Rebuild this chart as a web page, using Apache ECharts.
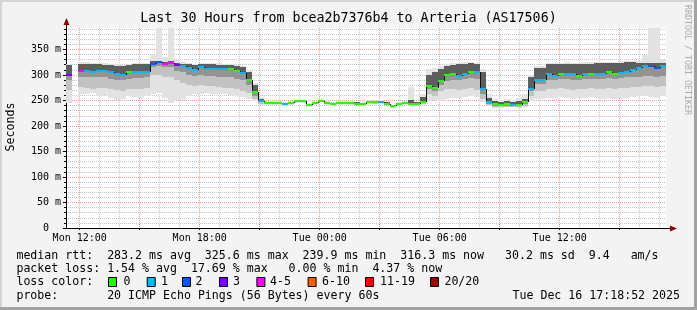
<!DOCTYPE html>
<html><head><meta charset="utf-8">
<script src="https://cdn.jsdelivr.net/npm/echarts@6/dist/echarts.min.js"></script>
<style>html,body{margin:0;padding:0;background:#f3f3f3;}#c{width:697px;height:310px;}</style>
</head><body><div id="c"></div>
<script>
// ---- data ----
const START_HOUR = 11 + 18 / 60 + 52 / 3600; // Mon 11:18:52 (hours since Mon 00:00)
const STEP_HOURS = 0.3;
const SPAN_HOURS = 30;

const median = [300,null,307,308,305,308,307,305,302,299,
  305,305,305,306,322,325,322,323,320,318,
  314,310,316,312,312,311,311,311,307,303,
  290,266,248,245,245,245,243,245,248,248,
  241,245,249,245,243,245,245,245,244,243,
  247,246,247,244,239,243,245,243,244,247,
  279,275,288,299,301,297,301,306,305,272,
  246,243,242,243,242,242,246,273,291,291,
  301,297,302,301,301,298,301,302,302,302,
  305,301,303,305,310,314,318,318,313,317];
const lossClass = [3,0,4,1,1,1,1,1,1,1,
  0,1,1,1,2,2,4,4,3,1,
  1,1,1,1,1,1,1,0,0,1,
  0,0,1,0,0,0,1,0,0,0,
  0,0,0,0,0,0,0,0,0,0,
  0,0,1,0,0,0,0,0,0,0,
  0,0,0,0,0,1,1,0,1,1,
  1,0,0,0,1,0,0,1,1,1,
  1,1,0,1,1,0,1,0,1,1,
  0,0,1,1,1,1,1,2,2,1];
const smokeMax = [322,null,325,325,324,324,323,322,321,320,
  322,323,323,324,340,400,335,400,330,325,
  324,322,324,323,323,323,322,322,320,318,
  310,285,256,248,248,248,246,248,251,251,
  244,248,252,248,246,248,248,248,247,246,
  250,249,250,247,242,246,248,277,247,262,
  312,314,318,322,324,324,325,326,324,312,
  262,252,250,252,250,255,262,300,318,318,
  324,324,324,325,324,324,325,325,325,326,
  326,326,327,327,328,328,340,400,400,330];
const smokeTop = [319,null,322,322,321,321,320,319,318,317,
  320,321,321,322,328,328,326,327,324,322,
  321,320,322,321,321,320,320,320,318,315,
  305,280,253,247,247,247,245,247,250,250,
  243,247,251,247,245,247,247,247,246,245,
  249,248,249,246,241,245,247,250,246,256,
  300,305,312,318,320,321,322,323,321,305,
  255,248,247,248,246,248,252,296,313,314,
  321,321,322,322,321,321,322,322,323,323,
  324,323,324,325,325,324,324,324,323,324];
const smokeDark = [290,null,296,296,295,296,295,292,290,290,
  293,294,294,296,315,318,315,315,308,305,
  300,298,300,298,297,296,295,295,292,290,
  280,258,246,244,244,244,242,244,247,247,
  240,244,248,244,242,244,244,244,243,242,
  246,245,246,243,238,242,244,242,243,246,
  272,268,280,288,290,290,292,294,292,262,
  243,240,239,240,240,240,243,268,282,282,
  290,290,292,292,290,290,292,292,292,292,
  294,292,294,295,296,296,298,298,296,298];
const smokeMid = [270,null,276,275,272,275,274,272,270,268,
  272,272,272,275,300,300,295,295,290,285,
  280,278,280,278,278,276,275,275,272,268,
  265,252,244,243,243,243,241,243,246,246,
  239,243,247,243,241,243,243,243,242,241,
  245,244,245,242,237,241,243,241,242,244,
  262,258,268,272,272,270,272,274,270,252,
  241,238,237,238,238,238,240,258,268,268,
  272,272,274,272,270,272,272,274,272,272,
  274,272,274,275,276,276,278,278,276,278];
const smokeMin = [245,null,262,262,264,258,260,255,250,252,
  258,256,254,258,262,265,255,245,250,250,
  258,262,262,265,262,262,262,260,258,256,
  252,248,242,242,242,242,240,242,245,245,
  238,242,246,242,240,242,242,242,241,240,
  244,243,244,241,236,240,242,240,241,242,
  248,250,248,252,255,255,256,258,256,246,
  239,236,236,237,237,236,238,248,252,252,
  254,255,256,254,252,255,254,256,254,252,
  254,252,254,255,256,258,258,256,254,258];

const lossColors = ['#26ff00','#00b8ff','#0059ff','#7e00ff','#ff00ff','#ff5e00','#ff0000','#a10000'];
const lossLabels = ['0','1','2','3','4-5','6-10','11-19','20/20'];

const yLabelTicks = [0,50,100,150,200,250,300,350];
const yMinorTicks = [10,20,30,40,60,70,80,90,110,120,130,140,160,170,180,190,210,220,230,240,260,270,280,290,310,320,330,340,360,370,380,390];
const xLabelHours = [12,18,24,30,36];
const xMajorHours = [12,15,18,21,24,27,30,33,36,39];
const xMinorHours = [13,14,16,17,19,20,22,23,25,26,28,29,31,32,34,35,37,38,40,41];
const dayNames = ['Mon','Tue'];

const titleText = 'Last 30 Hours from bcea2b7376b4 to Arteria (AS17506)';
const rttLabel = 'median rtt:';
const rttStats = ['283.2 ms avg','325.6 ms max','239.9 ms min','316.3 ms now','30.2 ms sd','9.4','am/s'];
const lossLabel = 'packet loss:';
const lossStats = ['1.54 % avg','17.69 % max','0.00 % min','4.37 % now'];
const colorLabel = 'loss color:';
const probeLabel = 'probe:';
const probeText = '20 ICMP Echo Pings (56 Bytes) every 60s';
const dateText = 'Tue Dec 16 17:18:52 2025';
const yName = 'Seconds';
const watermark = 'RRDTOOL / TOBI OETIKER';

// ---- build ----
const FONT = '"DejaVu Sans Mono", monospace';
const times = median.map((_, i) => START_HOUR + i * STEP_HOURS);
const smokeData = times.map((t, i) => [t, smokeMin[i], smokeMid[i], smokeDark[i], median[i], smokeTop[i], smokeMax[i]]);
const medianData = times.map((t, i) => [t, median[i], lossClass[i], i + 1 < median.length ? median[i + 1] : null]);

const bad = v => v == null || isNaN(v);

function renderSmoke(params, api) {
  const t = api.value(0);
  if (bad(api.value(4))) return;
  const cs = params.coordSys;
  const clipR = {x: cs.x, y: cs.y, width: cs.width, height: cs.height};
  const x0 = Math.round(api.coord([t, 0])[0]);
  const x1 = Math.round(api.coord([t + STEP_HOURS, 0])[0]);
  const bands = [[1, 6, '#e2e2e2'], [2, 5, '#c2c2c2'], [3, 5, '#939393'], [4, 5, '#5e5e5e']];
  const children = [];
  bands.forEach(b => {
    const ylo = Math.round(api.coord([t, api.value(b[0])])[1]);
    const yhi = Math.round(api.coord([t, api.value(b[1])])[1]);
    const r = echarts.graphic.clipRectByRect({x: x0, y: yhi, width: x1 - x0, height: ylo - yhi}, clipR);
    if (r) children.push({type: 'rect', shape: r, style: {fill: b[2]}});
  });
  return {type: 'group', children};
}

function renderMedian(params, api) {
  const t = api.value(0), m = api.value(1);
  if (bad(m)) return;
  const p0 = api.coord([t, m]);
  const p1 = api.coord([t + STEP_HOURS, m]);
  const y = Math.round(p0[1]);
  const children = [];
  const nm = api.value(3);
  if (!bad(nm)) {
    const yn = Math.round(api.coord([t, nm])[1]);
    const xv = Math.round(p1[0]) + 0.5;
    children.push({type: 'line', shape: {x1: xv, y1: y, x2: xv, y2: yn}, style: {stroke: '#111', lineWidth: 1}});
  }
  children.push({type: 'line', shape: {x1: Math.round(p0[0]), y1: y, x2: Math.round(p1[0]), y2: y},
    style: {stroke: lossColors[api.value(2)], lineWidth: 2}});
  return {type: 'group', children};
}

function txt(x, y, s, size, opt) {
  opt = opt || {};
  return {type: 'text', x: x, y: y, rotation: opt.rotation || 0, silent: true,
    style: {text: s, font: size + 'px ' + FONT, fill: opt.fill || '#000',
      align: opt.align || 'left', verticalAlign: 'middle'}};
}

const LEG = 11.6;
const CH = 6.98;           // monospace advance at LEG size
const LX = 16.4;           // legend left edge
const col = c => LX + c * CH;
const rowY = [256, 269, 282, 296];
const rttCols = [13, 27, 41, 55, 70, 82, 88];
const lossCols = [13, 25, 39, 51];
const boxX = [108, 146.7, 182, 219, 256.4, 307.6, 365, 430];
const boxLabelX = [123.6, 161, 195.6, 233, 270, 322, 380, 444.4];

const graphics = [
  {type: 'rect', shape: {x: 0, y: 0, width: 697, height: 2}, style: {fill: '#d4d4d4'}, silent: true},
  {type: 'rect', shape: {x: 0, y: 0, width: 2, height: 310}, style: {fill: '#d4d4d4'}, silent: true},
  {type: 'rect', shape: {x: 694, y: 0, width: 3, height: 310}, style: {fill: '#a2a2a2'}, silent: true},
  {type: 'rect', shape: {x: 0, y: 307, width: 697, height: 3}, style: {fill: '#a2a2a2'}, silent: true},
  txt(348.5, 19, titleText, 13.3, {align: 'center'}),
  txt(11, 127, yName, 11.6, {align: 'center', rotation: Math.PI / 2}),
  txt(687, 5, watermark, 8.3, {fill: '#ababab', rotation: -Math.PI / 2}),
  // axis extensions + arrows
  {type: 'line', shape: {x1: 66.5, y1: 28, x2: 66.5, y2: 23}, style: {stroke: '#000', lineWidth: 1}, silent: true},
  {type: 'polygon', shape: {points: [[63.5, 25], [69.5, 25], [66.5, 18]]}, style: {fill: '#8b0000'}, silent: true},
  {type: 'line', shape: {x1: 666, y1: 228.5, x2: 671, y2: 228.5}, style: {stroke: '#000', lineWidth: 1}, silent: true},
  {type: 'polygon', shape: {points: [[670, 225.5], [670, 231.5], [677, 228.5]]}, style: {fill: '#8b0000'}, silent: true},
  txt(LX, rowY[0], rttLabel, LEG),
  txt(LX, rowY[1], lossLabel, LEG),
  txt(LX, rowY[2], colorLabel, LEG),
  txt(LX, rowY[3], probeLabel, LEG),
  txt(col(13), rowY[3], probeText, LEG),
  txt(680, rowY[3], dateText, LEG, {align: 'right'})
];
rttStats.forEach((s, i) => graphics.push(txt(col(rttCols[i]), rowY[0], s, LEG)));
lossStats.forEach((s, i) => graphics.push(txt(col(lossCols[i]), rowY[1], s, LEG)));
lossLabels.forEach((s, i) => {
  graphics.push({type: 'rect', shape: {x: boxX[i] + 0.5, y: rowY[2] - 4.5, width: 8, height: 9},
    style: {fill: lossColors[i], stroke: '#000', lineWidth: 1}, silent: true});
  graphics.push(txt(boxLabelX[i], rowY[2], s, LEG));
});

const minorLine = {show: true, lineStyle: {color: '#c4c4c4', width: 1, type: [1, 1]}};
const majorLine = {show: true, lineStyle: {color: '#f29a9a', width: 1, type: [1, 1]}};
const X_MIN = START_HOUR, X_MAX = START_HOUR + SPAN_HOURS, Y_MIN = 0, Y_MAX = 392;

const option = {
  animation: false,
  backgroundColor: '#f3f3f3',
  grid: {left: 66, top: 28, width: 600, height: 200, show: true, backgroundColor: '#ffffff', borderWidth: 0,
    containLabel: false, outerBoundsMode: 'none'},
  xAxis: [
    {type: 'value', min: X_MIN, max: X_MAX, position: 'bottom',
      axisLine: {show: true, lineStyle: {color: '#000', width: 1}},
      axisTick: {show: true, length: 2, customValues: xMajorHours, lineStyle: {color: '#000'}},
      axisLabel: {show: true, customValues: xLabelHours, margin: 5, color: '#000', fontFamily: FONT, fontSize: 10,
        formatter: v => { const h = Math.round(v); return dayNames[Math.floor(h / 24)] + ' ' + String(h % 24).padStart(2, '0') + ':00'; }},
      splitLine: majorLine, z: 1},
    {type: 'value', min: X_MIN, max: X_MAX, position: 'bottom',
      axisLine: {show: false}, axisLabel: {show: false},
      axisTick: {show: false, customValues: xMinorHours},
      splitLine: minorLine, z: 0}
  ],
  yAxis: [
    {type: 'value', min: Y_MIN, max: Y_MAX, position: 'left',
      axisLine: {show: true, lineStyle: {color: '#000', width: 1}},
      axisTick: {show: true, length: 3, customValues: yLabelTicks, lineStyle: {color: '#000'}},
      axisLabel: {show: true, customValues: yLabelTicks, margin: 5, color: '#000', fontFamily: FONT, fontSize: 10,
        formatter: v => v === 0 ? '0  ' : v + ' m'},
      splitLine: majorLine, z: 1},
    {type: 'value', min: Y_MIN, max: Y_MAX, position: 'left',
      axisLine: {show: false}, axisLabel: {show: false},
      axisTick: {show: true, length: 2, customValues: yMinorTicks, lineStyle: {color: '#000'}},
      splitLine: minorLine, z: 0}
  ],
  series: [
    {type: 'custom', name: 'smoke', xAxisIndex: 0, yAxisIndex: 0, renderItem: renderSmoke, data: smokeData,
      encode: {x: 0, y: [1, 6]}, silent: true, z: 2},
    {type: 'custom', name: 'median', xAxisIndex: 0, yAxisIndex: 0, renderItem: renderMedian, data: medianData,
      encode: {x: 0, y: 1}, silent: true, z: 3}
  ],
  graphic: graphics
};

const chart = echarts.init(document.getElementById('c'), null, {renderer: 'canvas'});
chart.setOption(option);
</script>
</body></html>
